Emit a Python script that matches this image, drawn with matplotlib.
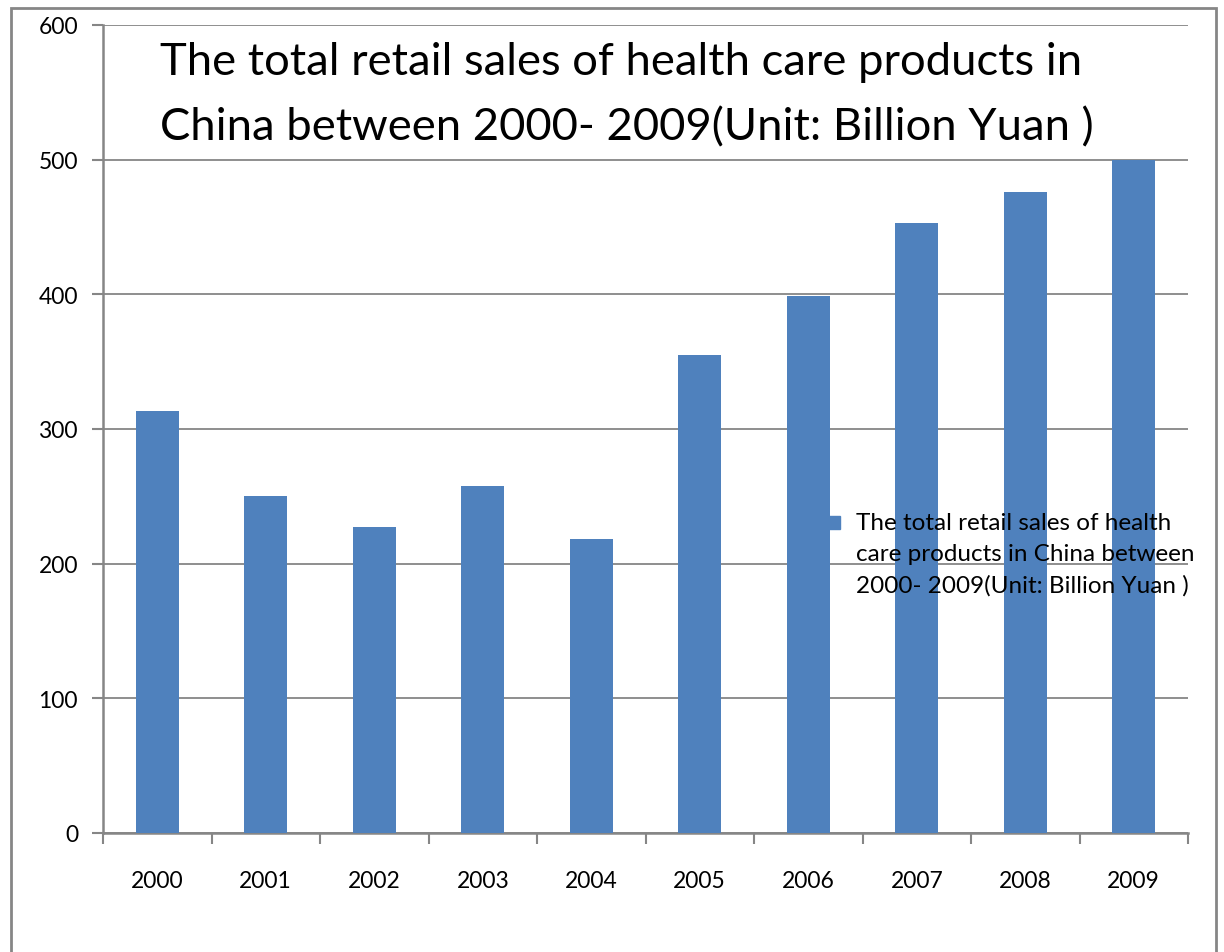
import matplotlib.pyplot as plt
from matplotlib.patches import Rectangle

plt.rcParams['font.family'] = ['Lato', 'DejaVu Sans']

# data
years = ['2000', '2001', '2002', '2003', '2004', '2005', '2006', '2007', '2008', '2009']
sales = [313, 250, 227, 258, 218, 355, 399, 453, 476, 500]
series_name = ('The total retail sales of health\ncare products in China between\n'
               '2000- 2009(Unit: Billion Yuan )')
title_text = ('The total retail sales of health care products in\n'
              'China between 2000- 2009(Unit: Billion Yuan )')
yticks = [0, 100, 200, 300, 400, 500, 600]

grey = '#868686'
blue = '#4F81BD'

fig = plt.figure(figsize=(12.24, 9.53), dpi=100)
ax = fig.add_axes([103 / 1224, 1 - 834 / 953, (1188 - 103) / 1224, (834 - 26) / 953])

x = range(len(years))
ax.bar(x, sales, width=0.4, color=blue, zorder=3)

ax.set_xlim(-0.5, len(years) - 0.5)
ax.set_ylim(0, 600)
ax.set_yticks(yticks)
ax.set_xticks(list(x))
ax.set_xticklabels(years)
ax.set_xticks([i - 0.5 for i in range(len(years) + 1)], minor=True)
ax.tick_params(axis='x', which='major', length=0, pad=27, labelsize=16.5)
ax.tick_params(axis='x', which='minor', length=8, width=1.5, color=grey, direction='out')
ax.tick_params(axis='y', length=8, width=1.5, color=grey, pad=10, labelsize=16.5)

ax.grid(axis='y', color=grey, lw=1.3, zorder=0)
for s in ['top', 'right']:
    ax.spines[s].set_visible(False)
for s in ['left', 'bottom']:
    ax.spines[s].set_color(grey)
    ax.spines[s].set_linewidth(1.8)

# legend: marker square next to the first line of the wrapped label
fig.patches.append(Rectangle((829 / 1224, 1 - 530 / 953), 11 / 1224, 13 / 953,
                             transform=fig.transFigure, color=blue, zorder=5))
fig.text(856 / 1224, 1 - 513 / 953, series_name, fontsize=17.5, ha='left', va='top',
         linespacing=1.57, zorder=6)

fig.text(160 / 1224, 1 - 42 / 953, title_text, fontsize=32.7, ha='left', va='top',
         linespacing=1.74)

# outer chart border
fig.patches.append(Rectangle((11 / 1224, -0.05), 1205 / 1224, 1.05 - 9 / 953,
                             transform=fig.transFigure, fill=False,
                             edgecolor=grey, lw=2))

fig.savefig('out.png', dpi=100)
